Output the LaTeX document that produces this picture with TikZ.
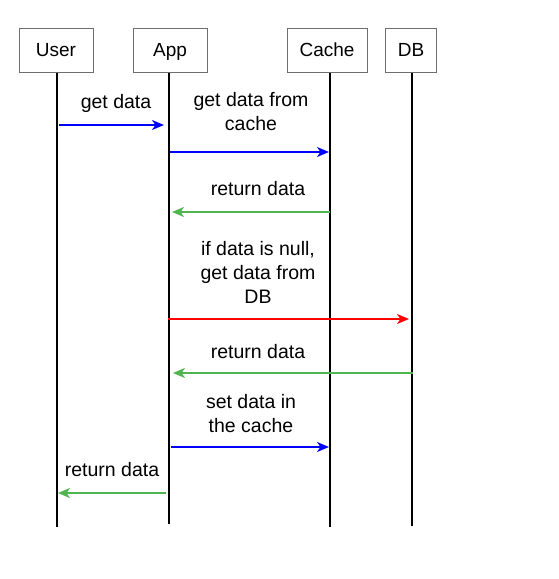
\documentclass[tikz,border=0pt]{standalone}
\usepackage{fontspec}
\setmainfont{Liberation Sans}
\usetikzlibrary{arrows.meta}
\definecolor{msgblue}{RGB}{0,0,255}
\definecolor{msggreen}{RGB}{80,180,80}
\definecolor{msgred}{RGB}{255,0,0}
\definecolor{boxgray}{RGB}{110,110,110}
\begin{document}
\begin{tikzpicture}[x=1pt,y=-1pt,
  actor/.style={draw=boxgray,line width=1pt,minimum height=44pt,inner sep=0pt,text height=13pt,text depth=0pt,font=\fontsize{19}{22}\selectfont},
  lifeline/.style={line width=1.8pt,black},
  msg/.style={line width=1.8pt,-{Stealth[length=12pt,width=10pt,inset=3.5pt]}},
  lbl/.style={align=center,font=\fontsize{19.5}{24}\selectfont,inner sep=0pt}]
\useasboundingbox (0,0) rectangle (558,579);
% actors
\node[actor,minimum width=74pt] (user) at (56,50) {User};
\node[actor,minimum width=74pt] (app) at (170,50) {App};
\node[actor,minimum width=80pt] (cache) at (327,50) {Cache};
\node[actor,minimum width=51pt] (db) at (411,50) {DB};
% lifeline ends
\coordinate (userend) at (57,527);
\coordinate (append) at (169,524);
\coordinate (cacheend) at (330,527);
\coordinate (dbend) at (412,526);
\draw[lifeline] (user.south -| userend) -- (userend);
\draw[lifeline] (app.south -| append) -- (append);
\draw[lifeline] (cache.south -| cacheend) -- (cacheend);
\draw[lifeline] (db.south -| dbend) -- (dbend);
% message endpoints
\coordinate (m1s) at (59,125);  \coordinate (m1e) at (164,125);
\coordinate (m2s) at (170,152); \coordinate (m2e) at (329,152);
\coordinate (m3s) at (330,212); \coordinate (m3e) at (172,212);
\coordinate (m4s) at (168,319); \coordinate (m4e) at (409,319);
\coordinate (m5s) at (413,373); \coordinate (m5e) at (173,373);
\coordinate (m6s) at (171,447); \coordinate (m6e) at (329,447);
\coordinate (m7s) at (166,493); \coordinate (m7e) at (58,493);
% messages
\draw[msg,msgblue] (m1s) -- (m1e);
\draw[msg,msgblue] (m2s) -- (m2e);
\draw[msg,msggreen] (m3s) -- (m3e);
\draw[msg,msgred] (m4s) -- (m4e);
\draw[msg,msggreen] (m5s) -- (m5e);
\draw[msg,msgblue] (m6s) -- (m6e);
\draw[msg,msggreen] (m7s) -- (m7e);
% labels
\node[lbl] (l1) at (116,103) {get data};
\node[lbl] (l2) at (251,112) {get data from\\cache};
\node[lbl] (l3) at (258,189) {return data};
\node[lbl] (l4) at (258,272) {if data is null,\\get data from\\DB};
\node[lbl] (l5) at (258,352) {return data};
\node[lbl] (l6) at (251,414) {set data in\\the cache};
\node[lbl] (l7) at (112,470) {return data};
\end{tikzpicture}
\end{document}
